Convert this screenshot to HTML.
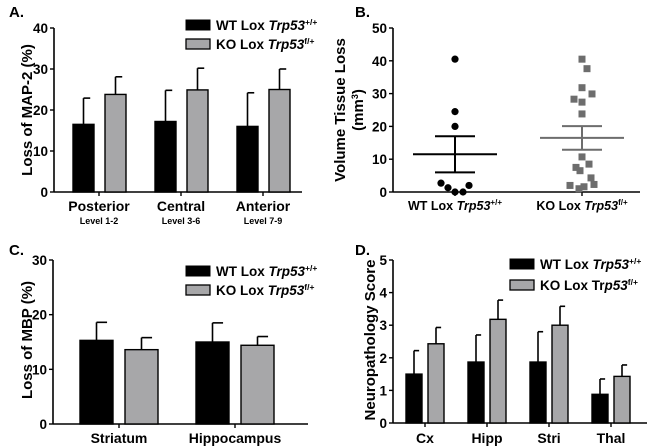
<!DOCTYPE html>
<html><head><meta charset="utf-8"><style>
body{margin:0;background:#fff}
svg{display:block;font-family:"Liberation Sans",Arial,sans-serif;font-weight:bold}
</style></head><body>
<svg id="s" width="650" height="447" viewBox="0 0 650 447"></svg>
<script>
// Panel A
const aCats=["Posterior","Central","Anterior"];
const aSub=["Level 1-2","Level 3-6","Level 7-9"];
const aWT=[16.5,17.2,16.0], aWTe=[6.4,7.6,8.2];
const aKO=[23.8,24.9,25.0], aKOe=[4.3,5.3,5.0];
const aTicks=[0,10,20,30,40];
// Panel B
const bWT=[40.5,24.5,20,2.7,1.3,0,0,2];
const bKO=[40.5,37.6,31.8,29.9,28.3,27.4,23.8,10.7,8.5,7.5,6.5,4.3,2.3,2.0,1.6,1.0];
const bWTmean=11.5,bWTsem=5.5,bKOmean=16.5,bKOsem=3.6;
const bTicks=[0,10,20,30,40,50];
// Panel C
const cCats=["Striatum","Hippocampus"];
const cWT=[15.3,15.0], cWTe=[3.3,3.5];
const cKO=[13.6,14.4], cKOe=[2.2,1.6];
const cTicks=[0,10,20,30];
// Panel D
const dCats=["Cx","Hipp","Stri","Thal"];
const dWT=[1.5,1.87,1.87,0.88], dWTe=[0.72,0.83,0.93,0.47];
const dKO=[2.43,3.18,3.0,1.43], dKOe=[0.5,0.59,0.58,0.35];
const dTicks=[0,1,2,3,4,5];

const S=document.getElementById('s');const NS="http://www.w3.org/2000/svg";
function el(t,a,txt){const e=document.createElementNS(NS,t);for(const k in a)e.setAttribute(k,a[k]);if(txt!=null)e.textContent=txt;S.appendChild(e);return e;}
const GRAY="#a7a7a9";
function axes(x0,y0,x1,yTop,ticks,sc,name){
  const ya=el('line',{x1:x0,y1:y0,x2:x0,y2:yTop,stroke:'#000','stroke-width':1.6});
  
  const xa=el('line',{x1:x0,y1:y0,x2:x1,y2:y0,stroke:'#000','stroke-width':1.6});
  
  ticks.forEach(t=>{const y=sc(t);el('line',{x1:x0-4,y1:y,x2:x0,y2:y,stroke:'#000','stroke-width':1.4});
    const l=el('text',{x:x0-6,y:y+5,'text-anchor':'end','font-size':13.5},t);
    });
}
function bar(x,w,v,e,sc,fill,name){
  const y0=sc(0),y=sc(v),ye=sc(v+e),cx=x+w/2;
  el('line',{x1:cx,y1:y,x2:cx,y2:ye,stroke:'#000','stroke-width':1.6});
  el('line',{x1:cx,y1:ye,x2:cx+w*0.32,y2:ye,stroke:'#000','stroke-width':1.6});
  const r=el('rect',{x:x,y:y,width:w,height:y0-y,fill:fill,stroke:'#000','stroke-width':1.4});
  
}
function legend(x,y1,y2,sup1,sup2,kotxt,name){
  const a=el('rect',{x:x,y:y1-5,width:24,height:10,fill:'#000',stroke:'#000'});
  
  const b=el('rect',{x:x,y:y2-5,width:24,height:10,fill:GRAY,stroke:'#000','stroke-width':1.3});
  
  const t1=el('text',{x:x+30,y:y1+5,'font-size':13.5});
  t1.innerHTML='WT Lox <tspan font-style="italic">Trp53</tspan><tspan font-size="8.5" dy="-5">'+sup1+'</tspan>';
  
  const t2=el('text',{x:x+30,y:y2+5,'font-size':13.5});
  t2.innerHTML=kotxt+'<tspan font-size="8.5" dy="-5">'+sup2+'</tspan>';
  
}
function title(x,y,txt,name,extra){const t=el('text',Object.assign({x:x,y:y,'font-size':15,'text-anchor':'middle'},extra||{}),txt);
  return t;}
function panel(x,y,txt){const t=el('text',{x:x,y:y,'font-size':15},txt);}

// A
panel(9,17,"A.");
const sA=v=>192-v*(164/40);
axes(54,192,302,28,aTicks,sA,'a');
aCats.forEach((c,i)=>{const cx=99+i*82;
  bar(cx-26,21,aWT[i],aWTe[i],sA,'#000','a-bar-wt-'+c.toLowerCase());
  bar(cx+6,21,aKO[i],aKOe[i],sA,GRAY,'a-bar-ko-'+c.toLowerCase());
  el('line',{x1:cx,y1:192,x2:cx,y2:196,stroke:'#000','stroke-width':1.4});
  const l=el('text',{x:cx,y:211,'text-anchor':'middle','font-size':14},c);
  const s=el('text',{x:cx,y:224,'text-anchor':'middle','font-size':9},aSub[i]);
});
title(27,110,"Loss of MAP-2 (%)",'a-y-axis-title',{transform:'rotate(-90 27 110)',dy:5});
legend(186,25,44,'+/+','f/+','KO Lox <tspan font-style="italic">Trp53</tspan>','a');

// B
panel(355,17,"B.");
const sB=v=>192-v*(164/50);
axes(393,192,640,28,bTicks,sB,'b');
const bx=[455,582];
bx.forEach(c=>el('line',{x1:c,y1:192,x2:c,y2:196,stroke:'#000','stroke-width':1.4}));
const wtOff=[0,0,0,-14,-7,0,8,14];
bWT.forEach((v,i)=>{const p=el('circle',{cx:bx[0]+wtOff[i],cy:sB(v),r:3.6,fill:'#000'});});
const koOff=[0,5,0,10,-8,0,0,0,7,-6,-2,9,12,-12,2,-3];
bKO.forEach((v,i)=>{const y=sB(v);const p=el('rect',{x:bx[1]+koOff[i]-3.5,y:y-3.5,width:7,height:7,fill:'#6d6d6d'});});
function meanBar(c,m,s,col,name){
  const g=[['m',m,42],['u',m+s,20],['l',m-s,20]];
  g.forEach(q=>{const ln=el('line',{x1:c-q[2],y1:sB(q[1]),x2:c+q[2],y2:sB(q[1]),stroke:col,'stroke-width':2});});
  el('line',{x1:c,y1:sB(m+s),x2:c,y2:sB(m-s),stroke:col,'stroke-width':2});
}
meanBar(bx[0],bWTmean,bWTsem,'#000','b-mean-wt');
meanBar(bx[1],bKOmean,bKOsem,'#6d6d6d','b-mean-ko');
[[bx[0],'WT Lox ','+/+'],[bx[1],'KO Lox ','f/+']].forEach((q,i)=>{const t=el('text',{x:q[0],y:210,'text-anchor':'middle','font-size':12.5});
  t.innerHTML=q[1]+'<tspan font-style="italic">Trp53</tspan><tspan font-size="8" dy="-5">'+q[2]+'</tspan>';
  });
title(340,110,"Volume Tissue Loss",'b-y-axis-title',{transform:'rotate(-90 340 110)',dy:5});
const t3=title(358,110,"",'b-y-axis-unit',{transform:'rotate(-90 358 110)',dy:5});t3.innerHTML='(mm<tspan font-size="9" dy="-5">3</tspan><tspan dy="5">)</tspan>';

// C
panel(9,255,"C.");
const sC=v=>424-v*(164/30);
axes(53,424,308,260,cTicks,sC,'c');
cCats.forEach((c,i)=>{const cx=[119,235][i];
  bar(cx-39,33,cWT[i],cWTe[i],sC,'#000','c-bar-wt-'+c.toLowerCase());
  bar(cx+6,33,cKO[i],cKOe[i],sC,GRAY,'c-bar-ko-'+c.toLowerCase());
  el('line',{x1:cx,y1:424,x2:cx,y2:428,stroke:'#000','stroke-width':1.4});
  const l=el('text',{x:cx,y:443,'text-anchor':'middle','font-size':14},c);
});
title(27,340,"Loss of MBP (%)",'c-y-axis-title',{transform:'rotate(-90 27 340)',dy:5});
legend(186,271,290,'+/+','f/+','KO Lox <tspan font-style="italic">Trp53</tspan>','c');

// D
panel(355,255,"D.");
const sD=v=>423-v*(163/5);
axes(393,423,647,260,dTicks,sD,'d');
dCats.forEach((c,i)=>{const cx=425+i*62;
  bar(cx-19,16,dWT[i],dWTe[i],sD,'#000','d-bar-wt-'+c.toLowerCase());
  bar(cx+3,16,dKO[i],dKOe[i],sD,GRAY,'d-bar-ko-'+c.toLowerCase());
  el('line',{x1:cx,y1:423,x2:cx,y2:427,stroke:'#000','stroke-width':1.4});
  const l=el('text',{x:cx,y:443,'text-anchor':'middle','font-size':14},c);
});
title(370,340,"Neuropathology Score",'d-y-axis-title',{transform:'rotate(-90 370 340)',dy:5});
legend(510,264,285,'+/+','f/+','KO Lox Tr<tspan font-style="italic">p53</tspan>','d');
</script>
</body></html>
